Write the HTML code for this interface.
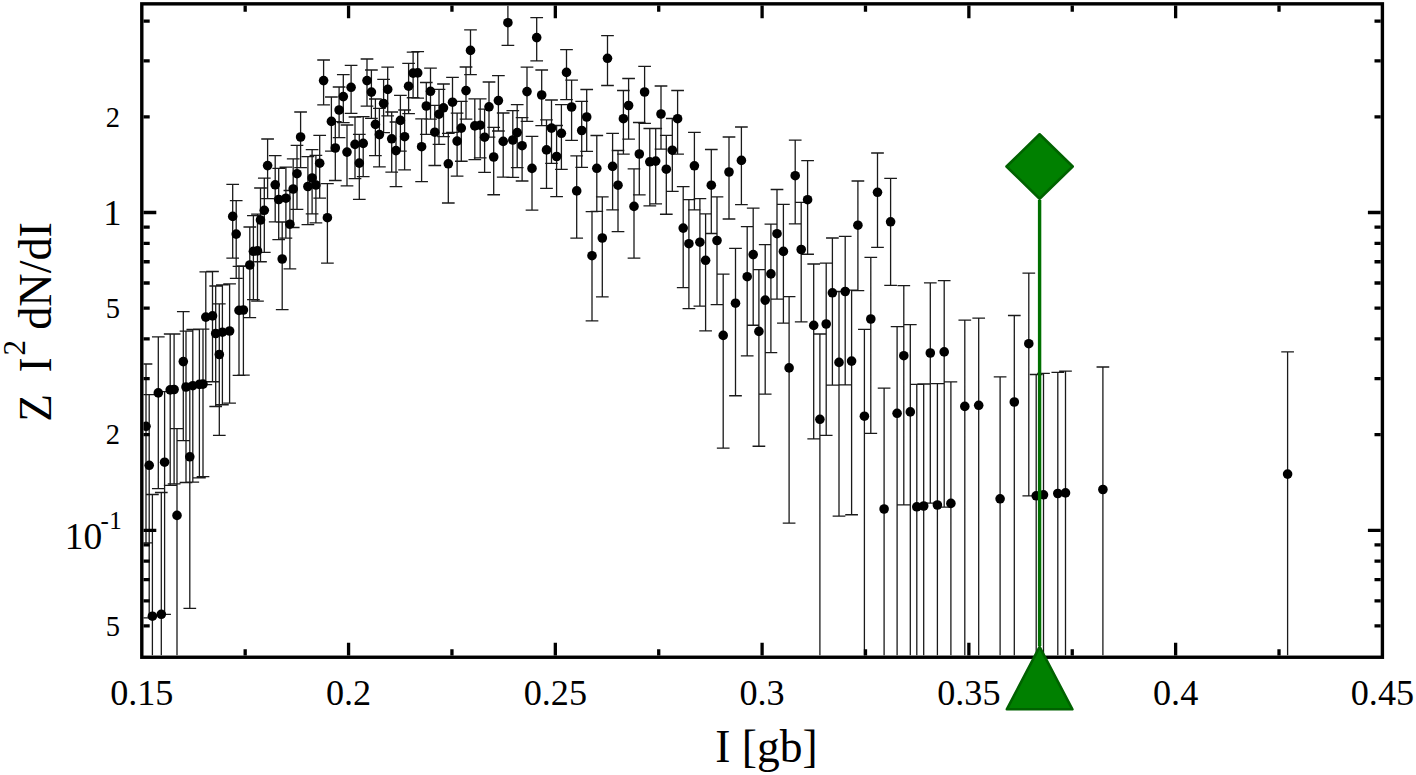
<!DOCTYPE html>
<html><head><meta charset="utf-8"><title>plot</title>
<style>html,body{margin:0;padding:0;background:#fff;}svg{display:block;}text{font-family:"Liberation Serif",serif;fill:#000;}</style></head><body>
<svg width="1416" height="775" viewBox="0 0 1416 775">
<rect width="1416" height="775" fill="#fff"/>
<defs><clipPath id="c"><rect x="143.5" y="5.55" width="1237.2" height="650"/></clipPath></defs>
<g clip-path="url(#c)">
<path d="M146 364V542.94M139.65 364h12.7M139.65 542.94h12.7M149.2 394.6V617.92M142.85 394.6h12.7M142.85 617.92h12.7M152.4 494.5V655.55M146.05 494.5h12.7M158.3 336.9V488.68M151.95 336.9h12.7M151.95 488.68h12.7M161.3 492.5V655.55M154.95 492.5h12.7M164.6 391.6V614.31M158.25 391.6h12.7M158.25 614.31h12.7M170.2 334V485.38M163.85 334h12.7M163.85 485.38h12.7M174.1 334V483.79M167.75 334h12.7M167.75 483.79h12.7M177 428.7V655.55M170.65 428.7h12.7M183.3 311.7V440.53M176.95 311.7h12.7M176.95 440.53h12.7M186 331.1V482.48M179.65 331.1h12.7M179.65 482.48h12.7M189.8 386.3V608.41M183.45 386.3h12.7M183.45 608.41h12.7M192.8 329.5V482.08M186.45 329.5h12.7M186.45 482.08h12.7M199.4 329.2V477.81M193.05 329.2h12.7M193.05 477.81h12.7M203 329.2V476.63M196.65 329.2h12.7M196.65 476.63h12.7M205.8 271.94V384.67M199.45 271.94h12.7M199.45 384.67h12.7M212.5 271.5V381.76M206.15 271.5h12.7M206.15 381.76h12.7M215.7 286V406.51M209.35 286h12.7M209.35 406.51h12.7M219.3 303.86V435.33M212.95 303.86h12.7M212.95 435.33h12.7M222.4 284.89V404.76M216.05 284.89h12.7M216.05 404.76h12.7M229.6 283.86V403.14M223.25 283.86h12.7M223.25 403.14h12.7M232.7 184.4V258.13M226.35 184.4h12.7M226.35 258.13h12.7M236.2 200.6V278.43M229.85 200.6h12.7M229.85 278.43h12.7M239 266.4V375.37M232.65 266.4h12.7M232.65 375.37h12.7M243.4 265.9V375.19M237.05 265.9h12.7M237.05 375.19h12.7M249.8 227V317.61M243.45 227h12.7M243.45 317.61h12.7M253.4 215.6V299.58M247.05 215.6h12.7M247.05 299.58h12.7M257.5 214.21V301.03M251.15 214.21h12.7M251.15 301.03h12.7M260.5 188V261.73M254.15 188h12.7M254.15 261.73h12.7M264.3 178.09V252.4M257.95 178.09h12.7M257.95 252.4h12.7M267.6 139V198.58M261.25 139h12.7M261.25 198.58h12.7M275.2 155.6V221.88M268.85 155.6h12.7M268.85 221.88h12.7M278.7 168.39V239.72M272.35 168.39h12.7M272.35 239.72h12.7M282.2 222V309.7M275.85 222h12.7M275.85 309.7h12.7M285.9 167.22V238.2M279.55 167.22h12.7M279.55 238.2h12.7M289.9 190.51V268.87M283.55 190.51h12.7M283.55 268.87h12.7M293.2 158.94V227.49M286.85 158.94h12.7M286.85 227.49h12.7M297 145.4V209.34M290.65 145.4h12.7M290.65 209.34h12.7M300.6 112V167.55M294.25 112h12.7M294.25 167.55h12.7M307.9 156.68V224.59M301.55 156.68h12.7M301.55 224.59h12.7M312.1 149.6V213.8M305.75 149.6h12.7M305.75 213.8h12.7M315.9 155.32V222.85M309.55 155.32h12.7M309.55 222.85h12.7M319.7 135.4V198.05M313.35 135.4h12.7M313.35 198.05h12.7M323.6 60V104.82M317.25 60h12.7M317.25 104.82h12.7M327.4 183.6V263.09M321.05 183.6h12.7M321.05 263.09h12.7M331.4 97V151.06M325.05 97h12.7M325.05 151.06h12.7M335.3 121.72V180.5M328.95 121.72h12.7M328.95 180.5h12.7M339.1 87V137.61M332.75 87h12.7M332.75 137.61h12.7M343.3 74.7V122.64M336.95 74.7h12.7M336.95 122.64h12.7M347 125V185.85M340.65 125h12.7M340.65 185.85h12.7M351.1 65.4V113.34M344.75 65.4h12.7M344.75 113.34h12.7M355 117V178.62M348.65 117h12.7M348.65 178.62h12.7M359.3 134.4V199.38M352.95 134.4h12.7M352.95 199.38h12.7M363.2 116.6V176.69M356.85 116.6h12.7M356.85 176.69h12.7M367 59V106.22M360.65 59h12.7M360.65 106.22h12.7M371.4 70V118.43M365.05 70h12.7M365.05 118.43h12.7M375.4 99V155.55M369.05 99h12.7M369.05 155.55h12.7M379.4 108.4V166.97M373.05 108.4h12.7M373.05 166.97h12.7M383.6 79.4V132.72M377.25 79.4h12.7M377.25 132.72h12.7M387.7 67.2V115.87M381.35 67.2h12.7M381.35 115.87h12.7M391.7 112V172.09M385.35 112h12.7M385.35 172.09h12.7M396 122V186.72M389.65 122h12.7M389.65 186.72h12.7M400.4 95.3V151.1M394.05 95.3h12.7M394.05 151.1h12.7M404.6 110V169.83M398.25 110h12.7M398.25 169.83h12.7M408.6 63.4V113.53M402.25 63.4h12.7M402.25 113.53h12.7M413.1 52.2V97.74M406.75 52.2h12.7M406.75 97.74h12.7M417.7 51.6V98.1M411.35 51.6h12.7M411.35 98.1h12.7M421.6 118.8V181.71M415.25 118.8h12.7M415.25 181.71h12.7M426.3 82.5V134.34M419.95 82.5h12.7M419.95 134.34h12.7M430.5 68.1V119.2M424.15 68.1h12.7M424.15 119.2h12.7M434.8 105.4V165.49M428.45 105.4h12.7M428.45 165.49h12.7M439 89.4V144.45M432.65 89.4h12.7M432.65 144.45h12.7M443.5 84V136.58M437.15 84h12.7M437.15 136.58h12.7M448.3 133.3V203.01M441.95 133.3h12.7M441.95 203.01h12.7M452.5 77.4V132.45M446.15 77.4h12.7M446.15 132.45h12.7M457.1 113.2V176.11M450.75 113.2h12.7M450.75 176.11h12.7M461.3 101.4V161.23M454.95 101.4h12.7M454.95 161.23h12.7M466 67V119.09M459.65 67h12.7M459.65 119.09h12.7M470.5 29.8V74.62M464.15 29.8h12.7M464.15 74.62h12.7M474.8 98.8V159.65M468.45 98.8h12.7M468.45 159.65h12.7M480.2 98.8V157.87M473.85 98.8h12.7M473.85 157.87h12.7M484.6 109.2V172.36M478.25 109.2h12.7M478.25 172.36h12.7M489 82V137.05M482.65 82h12.7M482.65 137.05h12.7M493.7 127.4V194.73M487.35 127.4h12.7M487.35 194.73h12.7M498.4 75.7V131M492.05 75.7h12.7M492.05 131h12.7M503.2 113V177.2M496.85 113h12.7M496.85 177.2h12.7M507.9 5.55V45.28M501.55 45.28h12.7M512.8 110.6V177.41M506.45 110.6h12.7M506.45 177.41h12.7M517.2 104.7V167.61M510.85 104.7h12.7M510.85 167.61h12.7M522.1 117.6V181.02M515.75 117.6h12.7M515.75 181.02h12.7M527 67.1V121.41M520.65 67.1h12.7M520.65 121.41h12.7M532 136.4V210.13M525.65 136.4h12.7M525.65 210.13h12.7M536.7 17.7V60.86M530.35 17.7h12.7M530.35 60.86h12.7M541.7 70V125.55M535.35 70h12.7M535.35 125.55h12.7M546.5 119.8V188.45M540.15 119.8h12.7M540.15 188.45h12.7M551.5 100V163.42M545.15 100h12.7M545.15 163.42h12.7M556.6 125.5V196.54M550.25 125.5h12.7M550.25 196.54h12.7M561.4 104.7V169.42M555.05 104.7h12.7M555.05 169.42h12.7M566.5 49.7V99.58M560.15 49.7h12.7M560.15 99.58h12.7M571.6 80.2V140.29M565.25 80.2h12.7M565.25 140.29h12.7M576.7 155.8V238.09M570.35 155.8h12.7M570.35 238.09h12.7M581.7 101.4V167.42M575.35 101.4h12.7M575.35 167.42h12.7M586.7 89.5V151.38M580.35 89.5h12.7M580.35 151.38h12.7M592 211.6V320.89M585.65 211.6h12.7M585.65 320.89h12.7M596.8 135.5V211.41M590.45 135.5h12.7M590.45 211.41h12.7M602.3 196.9V296.79M595.95 196.9h12.7M595.95 296.79h12.7M607.5 35.6V85.48M601.15 35.6h12.7M601.15 85.48h12.7M612.6 133.4V209.86M606.25 133.4h12.7M606.25 209.86h12.7M618 150.5V231.66M611.65 150.5h12.7M611.65 231.66h12.7M623.4 90.5V154.18M617.05 90.5h12.7M617.05 154.18h12.7M628.6 78.5V139.1M622.25 78.5h12.7M622.25 139.1h12.7M634 168.9V258.05M627.65 168.9h12.7M627.65 258.05h12.7M639.3 122.5V194.88M632.95 122.5h12.7M632.95 194.88h12.7M644.6 66.4V123.45M638.25 66.4h12.7M638.25 123.45h12.7M649.8 128.5V205.78M643.45 128.5h12.7M643.45 205.78h12.7M655.7 128.5V203.86M649.35 128.5h12.7M649.35 203.86h12.7M661 86V149.16M654.65 86h12.7M654.65 149.16h12.7M666.3 135.3V214.24M659.95 135.3h12.7M659.95 214.24h12.7M672.3 118.5V191.42M665.95 118.5h12.7M665.95 191.42h12.7M677.6 90.5V154.18M671.25 90.5h12.7M671.25 154.18h12.7M683.2 186.6V287.72M676.85 186.6h12.7M676.85 287.72h12.7M688.9 199.7V308.67M682.55 199.7h12.7M682.55 308.67h12.7M694.4 132.4V209.95M688.05 132.4h12.7M688.05 209.95h12.7M699.9 198.7V306.08M693.55 198.7h12.7M693.55 306.08h12.7M705.6 213.8V330.94M699.25 213.8h12.7M699.25 330.94h12.7M711.3 149.5V233.48M704.95 149.5h12.7M704.95 233.48h12.7M717 196.9V304.6M710.65 196.9h12.7M710.65 304.6h12.7M723.2 274.2V448.09M716.85 274.2h12.7M716.85 448.09h12.7M729 137V219.01M722.65 137h12.7M722.65 219.01h12.7M735.5 248.3V395.73M729.15 248.3h12.7M729.15 395.73h12.7M741.4 127V204.55M735.05 127h12.7M735.05 204.55h12.7M747.2 226.7V355.89M740.85 226.7h12.7M740.85 355.89h12.7M753.2 208.1V325.24M746.85 208.1h12.7M746.85 325.24h12.7M758.9 269.6V446.23M752.55 269.6h12.7M752.55 446.23h12.7M765.2 244.7V394.1M758.85 244.7h12.7M758.85 394.1h12.7M770.9 224.1V352.58M764.55 224.1h12.7M764.55 352.58h12.7M777 189.5V299.12M770.65 189.5h12.7M770.65 299.12h12.7M783.4 204.4V323.22M777.05 204.4h12.7M777.05 323.22h12.7M789.1 296.7V523.07M782.75 296.7h12.7M782.75 523.07h12.7M795.2 140.1V223.8M788.85 140.1h12.7M788.85 223.8h12.7M801.2 202.3V321.79M794.85 202.3h12.7M794.85 321.79h12.7M807.6 160.7V254.26M801.25 160.7h12.7M801.25 254.26h12.7M813.7 264V438.8M807.35 264h12.7M807.35 438.8h12.7M819.9 334V655.55M813.55 334h12.7M826.2 263.2V435.29M819.85 263.2h12.7M819.85 435.29h12.7M832.4 238V385.04M826.05 238h12.7M826.05 385.04h12.7M839 291.5V516.03M832.65 291.5h12.7M832.65 516.03h12.7M845.2 236.3V384.91M838.85 236.3h12.7M838.85 384.91h12.7M851.6 290.2V514.73M845.25 290.2h12.7M845.25 514.73h12.7M857.9 181V290.62M851.55 181h12.7M851.55 290.62h12.7M864.4 329.4V655.55M858.05 329.4h12.7M870.8 257.3V433.47M864.45 257.3h12.7M864.45 433.47h12.7M877.5 153V247.45M871.15 153h12.7M871.15 247.45h12.7M884.1 388.1V655.55M877.75 388.1h12.7M890.6 178.4V285.46M884.25 178.4h12.7M884.25 285.46h12.7M897.1 326.6V655.55M890.75 326.6h12.7M903.8 285.7V504.84M897.45 285.7h12.7M897.45 504.84h12.7M910.3 324.6V655.55M903.95 324.6h12.7M916.8 384.3V655.55M910.45 384.3h12.7M923.7 384V655.55M917.35 384h12.7M930.3 282.8V503.12M923.95 282.8h12.7M923.95 503.12h12.7M937.4 383.6V655.55M931.05 383.6h12.7M944.2 280.7V507.07M937.85 280.7h12.7M937.85 507.07h12.7M950.9 381.8V655.55M944.55 381.8h12.7M964.8 320.1V655.55M958.45 320.1h12.7M978.7 318.1V655.55M972.35 318.1h12.7M1000.1 376.9V655.55M993.75 376.9h12.7M1014.3 315.5V655.55M1007.95 315.5h12.7M1028.8 273.1V495.81M1022.45 273.1h12.7M1022.45 495.81h12.7M1036.2 374.5V655.55M1029.85 374.5h12.7M1043.5 373.3V655.55M1037.15 373.3h12.7M1057.8 372.3V655.55M1051.45 372.3h12.7M1065.5 371.1V655.55M1059.15 371.1h12.7M1102.9 367V655.55M1096.55 367h12.7M1287.6 351.8V655.55M1281.25 351.8h12.7" stroke="#1a1a1a" stroke-width="1.3" fill="none"/>
<g fill="#000"><circle cx="146" cy="426.3" r="4.8"/><circle cx="149.2" cy="465.3" r="4.8"/><circle cx="152.4" cy="616.2" r="4.8"/><circle cx="158.3" cy="392.9" r="4.8"/><circle cx="161.3" cy="614.3" r="4.8"/><circle cx="164.6" cy="462.2" r="4.8"/><circle cx="170.2" cy="389.9" r="4.8"/><circle cx="174.1" cy="389.5" r="4.8"/><circle cx="177" cy="515.4" r="4.8"/><circle cx="183.3" cy="361.6" r="4.8"/><circle cx="186" cy="387" r="4.8"/><circle cx="189.8" cy="456.8" r="4.8"/><circle cx="192.8" cy="385.7" r="4.8"/><circle cx="199.4" cy="384.4" r="4.8"/><circle cx="203" cy="384.1" r="4.8"/><circle cx="205.8" cy="317.1" r="4.8"/><circle cx="212.5" cy="315.9" r="4.8"/><circle cx="215.7" cy="333.5" r="4.8"/><circle cx="219.3" cy="354.5" r="4.8"/><circle cx="222.4" cy="332.2" r="4.8"/><circle cx="229.6" cy="331" r="4.8"/><circle cx="232.7" cy="216.4" r="4.8"/><circle cx="236.2" cy="234.1" r="4.8"/><circle cx="239" cy="310.4" r="4.8"/><circle cx="243.4" cy="310" r="4.8"/><circle cx="249.8" cy="265" r="4.8"/><circle cx="253.4" cy="251.3" r="4.8"/><circle cx="257.5" cy="250.9" r="4.8"/><circle cx="260.5" cy="220" r="4.8"/><circle cx="264.3" cy="210.3" r="4.8"/><circle cx="267.6" cy="165.6" r="4.8"/><circle cx="275.2" cy="184.8" r="4.8"/><circle cx="278.7" cy="199.5" r="4.8"/><circle cx="282.2" cy="259" r="4.8"/><circle cx="285.9" cy="198.2" r="4.8"/><circle cx="289.9" cy="224.2" r="4.8"/><circle cx="293.2" cy="189" r="4.8"/><circle cx="297" cy="173.7" r="4.8"/><circle cx="300.6" cy="137" r="4.8"/><circle cx="307.9" cy="186.5" r="4.8"/><circle cx="312.1" cy="178" r="4.8"/><circle cx="315.9" cy="185" r="4.8"/><circle cx="319.7" cy="163.2" r="4.8"/><circle cx="323.6" cy="80.6" r="4.8"/><circle cx="327.4" cy="217.7" r="4.8"/><circle cx="331.4" cy="121.4" r="4.8"/><circle cx="335.3" cy="148" r="4.8"/><circle cx="339.1" cy="110" r="4.8"/><circle cx="343.3" cy="96.6" r="4.8"/><circle cx="347" cy="152.1" r="4.8"/><circle cx="351.1" cy="87.3" r="4.8"/><circle cx="355" cy="144.4" r="4.8"/><circle cx="359.3" cy="163.1" r="4.8"/><circle cx="363.2" cy="143.4" r="4.8"/><circle cx="367" cy="80.6" r="4.8"/><circle cx="371.4" cy="92.1" r="4.8"/><circle cx="375.4" cy="124.4" r="4.8"/><circle cx="379.4" cy="134.6" r="4.8"/><circle cx="383.6" cy="103.5" r="4.8"/><circle cx="387.7" cy="89.4" r="4.8"/><circle cx="391.7" cy="138.8" r="4.8"/><circle cx="396" cy="150.6" r="4.8"/><circle cx="400.4" cy="120.4" r="4.8"/><circle cx="404.6" cy="136.7" r="4.8"/><circle cx="408.6" cy="86.2" r="4.8"/><circle cx="413.1" cy="73.1" r="4.8"/><circle cx="417.7" cy="72.9" r="4.8"/><circle cx="421.6" cy="146.7" r="4.8"/><circle cx="426.3" cy="106" r="4.8"/><circle cx="430.5" cy="91.3" r="4.8"/><circle cx="434.8" cy="132.2" r="4.8"/><circle cx="439" cy="114.2" r="4.8"/><circle cx="443.5" cy="107.8" r="4.8"/><circle cx="448.3" cy="163.8" r="4.8"/><circle cx="452.5" cy="102.2" r="4.8"/><circle cx="457.1" cy="141.1" r="4.8"/><circle cx="461.3" cy="128.1" r="4.8"/><circle cx="466" cy="90.6" r="4.8"/><circle cx="470.5" cy="50.4" r="4.8"/><circle cx="474.8" cy="125.9" r="4.8"/><circle cx="480.2" cy="125.2" r="4.8"/><circle cx="484.6" cy="137.2" r="4.8"/><circle cx="489" cy="106.8" r="4.8"/><circle cx="493.7" cy="157" r="4.8"/><circle cx="498.4" cy="100.6" r="4.8"/><circle cx="503.2" cy="141.4" r="4.8"/><circle cx="507.9" cy="22.7" r="4.8"/><circle cx="512.8" cy="140" r="4.8"/><circle cx="517.2" cy="132.6" r="4.8"/><circle cx="522.1" cy="145.7" r="4.8"/><circle cx="527" cy="91.6" r="4.8"/><circle cx="532" cy="168.4" r="4.8"/><circle cx="536.7" cy="37.6" r="4.8"/><circle cx="541.7" cy="95" r="4.8"/><circle cx="546.5" cy="149.9" r="4.8"/><circle cx="551.5" cy="128.1" r="4.8"/><circle cx="556.6" cy="156.5" r="4.8"/><circle cx="561.4" cy="133.3" r="4.8"/><circle cx="566.5" cy="72.4" r="4.8"/><circle cx="571.6" cy="107" r="4.8"/><circle cx="576.7" cy="190.9" r="4.8"/><circle cx="581.7" cy="130.5" r="4.8"/><circle cx="586.7" cy="117" r="4.8"/><circle cx="592" cy="255.7" r="4.8"/><circle cx="596.8" cy="168.3" r="4.8"/><circle cx="602.3" cy="238" r="4.8"/><circle cx="607.5" cy="58.3" r="4.8"/><circle cx="612.6" cy="166.4" r="4.8"/><circle cx="618" cy="185.2" r="4.8"/><circle cx="623.4" cy="118.7" r="4.8"/><circle cx="628.6" cy="105.5" r="4.8"/><circle cx="634" cy="206.4" r="4.8"/><circle cx="639.3" cy="154" r="4.8"/><circle cx="644.6" cy="92" r="4.8"/><circle cx="649.8" cy="161.8" r="4.8"/><circle cx="655.7" cy="161.1" r="4.8"/><circle cx="661" cy="114" r="4.8"/><circle cx="666.3" cy="169.2" r="4.8"/><circle cx="672.3" cy="150.2" r="4.8"/><circle cx="677.6" cy="118.7" r="4.8"/><circle cx="683.2" cy="228.1" r="4.8"/><circle cx="688.9" cy="243.7" r="4.8"/><circle cx="694.4" cy="165.8" r="4.8"/><circle cx="699.9" cy="242.2" r="4.8"/><circle cx="705.6" cy="260.3" r="4.8"/><circle cx="711.3" cy="185.2" r="4.8"/><circle cx="717" cy="240.5" r="4.8"/><circle cx="723.2" cy="335.4" r="4.8"/><circle cx="729" cy="172" r="4.8"/><circle cx="735.5" cy="303.2" r="4.8"/><circle cx="741.4" cy="160.4" r="4.8"/><circle cx="747.2" cy="276.7" r="4.8"/><circle cx="753.2" cy="254.6" r="4.8"/><circle cx="758.9" cy="331.4" r="4.8"/><circle cx="765.2" cy="300.1" r="4.8"/><circle cx="770.9" cy="273.9" r="4.8"/><circle cx="777" cy="233.7" r="4.8"/><circle cx="783.4" cy="251.4" r="4.8"/><circle cx="789.1" cy="367.9" r="4.8"/><circle cx="795.2" cy="175.7" r="4.8"/><circle cx="801.2" cy="249.5" r="4.8"/><circle cx="807.6" cy="199.7" r="4.8"/><circle cx="813.7" cy="325.4" r="4.8"/><circle cx="819.9" cy="419.3" r="4.8"/><circle cx="826.2" cy="324" r="4.8"/><circle cx="832.4" cy="292.8" r="4.8"/><circle cx="839" cy="362.4" r="4.8"/><circle cx="845.2" cy="291.5" r="4.8"/><circle cx="851.6" cy="361.1" r="4.8"/><circle cx="857.9" cy="225.2" r="4.8"/><circle cx="864.4" cy="416.2" r="4.8"/><circle cx="870.8" cy="319" r="4.8"/><circle cx="877.5" cy="192.3" r="4.8"/><circle cx="884.1" cy="509" r="4.8"/><circle cx="890.6" cy="221.8" r="4.8"/><circle cx="897.1" cy="413.3" r="4.8"/><circle cx="903.8" cy="355.7" r="4.8"/><circle cx="910.3" cy="411.9" r="4.8"/><circle cx="916.8" cy="506.8" r="4.8"/><circle cx="923.7" cy="506" r="4.8"/><circle cx="930.3" cy="353" r="4.8"/><circle cx="937.4" cy="505" r="4.8"/><circle cx="944.2" cy="351.9" r="4.8"/><circle cx="950.9" cy="503.4" r="4.8"/><circle cx="964.8" cy="406.4" r="4.8"/><circle cx="978.7" cy="405.3" r="4.8"/><circle cx="1000.1" cy="498.8" r="4.8"/><circle cx="1014.3" cy="402" r="4.8"/><circle cx="1028.8" cy="343.7" r="4.8"/><circle cx="1036.2" cy="495.8" r="4.8"/><circle cx="1043.5" cy="494.8" r="4.8"/><circle cx="1057.8" cy="493.5" r="4.8"/><circle cx="1065.5" cy="492.9" r="4.8"/><circle cx="1102.9" cy="489.5" r="4.8"/><circle cx="1287.6" cy="474.1" r="4.8"/></g>
</g>
<path d="M1039.6 200V646" stroke="#007000" stroke-width="3.4"/>
<path d="M1039.6 134.3L1072.7 166.5L1039.6 198.8L1006.5 166.5Z" fill="#008000" stroke="#006200" stroke-width="2.6" stroke-linejoin="round"/>
<rect x="141.8" y="3.85" width="1240.6" height="653.4" fill="none" stroke="#000" stroke-width="3.4"/>
<path d="M245.18 655.55v-6.2M245.18 5.55v6.2M348.57 655.55v-12.8M348.57 5.55v12.8M451.95 655.55v-6.2M451.95 5.55v6.2M555.33 655.55v-12.8M555.33 5.55v12.8M658.72 655.55v-6.2M658.72 5.55v6.2M762.1 655.55v-12.8M762.1 5.55v12.8M865.48 655.55v-6.2M865.48 5.55v6.2M968.87 655.55v-12.8M968.87 5.55v12.8M1072.25 655.55v-6.2M1072.25 5.55v6.2M1175.63 655.55v-12.8M1175.63 5.55v12.8M1279.02 655.55v-6.2M1279.02 5.55v6.2M143.5 212.5h12.8M1380.7 212.5h-12.8M143.5 530.3h12.8M1380.7 530.3h-12.8M143.5 116.83h6.2M1380.7 116.83h-6.2M143.5 60.87h6.2M1380.7 60.87h-6.2M143.5 21.17h6.2M1380.7 21.17h-6.2M143.5 227.04h6.2M1380.7 227.04h-6.2M143.5 243.3h6.2M1380.7 243.3h-6.2M143.5 261.73h6.2M1380.7 261.73h-6.2M143.5 283h6.2M1380.7 283h-6.2M143.5 308.17h6.2M1380.7 308.17h-6.2M143.5 338.97h6.2M1380.7 338.97h-6.2M143.5 378.67h6.2M1380.7 378.67h-6.2M143.5 434.63h6.2M1380.7 434.63h-6.2M143.5 544.84h6.2M1380.7 544.84h-6.2M143.5 561.1h6.2M1380.7 561.1h-6.2M143.5 579.53h6.2M1380.7 579.53h-6.2M143.5 600.8h6.2M1380.7 600.8h-6.2M143.5 625.97h6.2M1380.7 625.97h-6.2" stroke="#000" stroke-width="3.3" fill="none"/>
<path d="M1039.6 646.8L1072.4 709.3L1006.8 709.3Z" fill="#008000" stroke="#006200" stroke-width="2.6" stroke-linejoin="round"/>
<text x="141.8" y="704.7" font-size="36.2" text-anchor="middle">0.15</text>
<text x="348.57" y="704.7" font-size="36.2" text-anchor="middle">0.2</text>
<text x="555.33" y="704.7" font-size="36.2" text-anchor="middle">0.25</text>
<text x="762.1" y="704.7" font-size="36.2" text-anchor="middle">0.3</text>
<text x="968.87" y="704.7" font-size="36.2" text-anchor="middle">0.35</text>
<text x="1175.63" y="704.7" font-size="36.2" text-anchor="middle">0.4</text>
<text x="1382.4" y="704.7" font-size="36.2" text-anchor="middle">0.45</text>
<text x="120" y="126.67" font-size="28.5" text-anchor="end">2</text>
<text x="121.5" y="225.09" font-size="36.5" text-anchor="end">1</text>
<text x="120" y="318" font-size="28.5" text-anchor="end">5</text>
<text x="120" y="444.47" font-size="28.5" text-anchor="end">2</text>
<text x="120" y="635.8" font-size="28.5" text-anchor="end">5</text>
<text x="64.8" y="549.3" font-size="37.5">10</text>
<text x="100.6" y="529.3" font-size="25">-</text>
<text x="109.3" y="529.3" font-size="25">1</text>
<text x="766.5" y="762.2" font-size="45.5" text-anchor="middle">I [gb]</text>
<g transform="translate(51.2 0) rotate(-90)">
<text x="-421.8" y="0" font-size="45.5">Z</text>
<text x="-372.4" y="0" font-size="45.5">I</text>
<text x="-355.6" y="-26.4" font-size="31">2</text>
<text x="-329.8" y="0" font-size="46.2">dN/dI</text>
</g>
</svg></body></html>
